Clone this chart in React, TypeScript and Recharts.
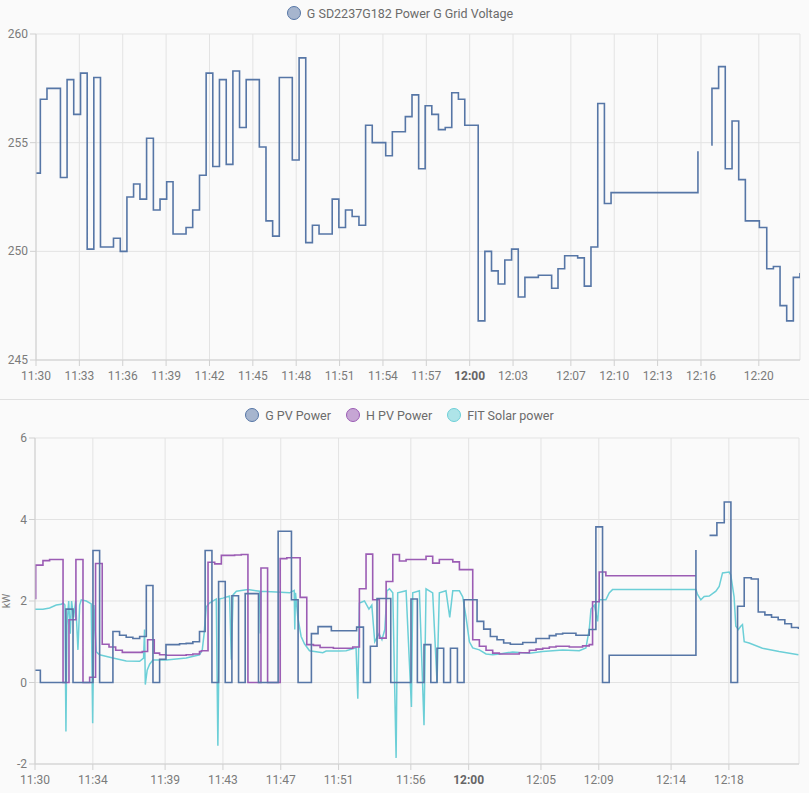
import React from 'react';
import { LineChart, Line, XAxis, YAxis, CartesianGrid, Legend, Label } from 'recharts';

// minutes after 11:30
const voltT = [0, 0.3, 0.76, 1.69, 2.15, 2.61, 3.08, 3.54, 4.0, 4.46, 5.36, 5.83, 6.29, 6.75, 7.19, 7.65, 8.12, 8.58, 9.04, 9.48, 10.38, 10.84, 11.31, 11.77, 12.23, 12.69, 13.16, 13.62, 14.08, 14.54, 15.45, 15.91, 16.37, 16.83, 17.73, 18.2, 18.66, 19.12, 19.58, 20.49, 20.95, 21.41, 21.87, 22.34, 22.8, 23.26, 24.19, 24.65, 25.55, 26.01, 26.47, 26.92, 27.38, 27.84, 28.31, 28.76, 29.22, 29.66, 30.59, 31.05, 31.51, 31.97, 32.43, 32.9, 33.36, 33.82, 34.75, 35.67, 36.11, 36.57, 37.47, 37.93, 38.39, 38.86, 39.32, 39.78, 45.79, 46.2, 46.71, 46.76, 47.22, 47.68, 48.15, 48.61, 49.07, 50.04, 50.55, 51.01, 51.47, 51.93, 52.39, 52.85];
const voltV = [253.6, 257.0, 257.5, 253.4, 257.9, 256.3, 258.2, 250.1, 258.0, 250.2, 250.6, 250.0, 252.5, 253.1, 252.4, 255.2, 251.9, 252.4, 253.2, 250.8, 251.1, 251.9, 253.5, 258.2, 253.9, 257.9, 254.0, 258.3, 255.7, 257.9, 254.8, 251.4, 250.7, 258.0, 254.2, 258.9, 250.4, 251.2, 250.8, 252.4, 251.1, 251.9, 251.6, 251.2, 255.8, 255.0, 254.4, 255.5, 256.2, 257.2, 253.8, 256.7, 256.3, 255.6, 255.7, 257.3, 257.0, 255.8, 246.8, 250.0, 249.1, 248.5, 249.6, 250.1, 247.9, 248.8, 248.9, 248.3, 249.2, 249.8, 249.7, 248.4, 250.2, 256.8, 252.2, 252.7, 254.6, null, 254.9, 257.5, 258.5, 253.8, 256.0, 253.3, 251.4, 251.1, 249.2, 249.3, 247.5, 246.8, 248.8, 249.0];

const gT = [0, 0.37, 2.14, 2.63, 4.01, 4.47, 5.39, 5.85, 6.31, 6.77, 7.24, 7.7, 8.16, 8.62, 9.06, 10.0, 10.46, 10.92, 11.38, 11.77, 12.24, 12.7, 13.16, 13.62, 14.08, 14.54, 15.46, 16.82, 17.74, 18.2, 19.12, 19.58, 20.5, 22.25, 22.72, 23.2, 23.66, 24.61, 26.01, 26.45, 26.91, 27.38, 27.81, 28.27, 28.74, 29.22, 29.68, 30.58, 31.04, 31.5, 31.96, 32.42, 32.88, 33.74, 34.66, 35.58, 36.04, 36.5, 37.42, 38.34, 38.8, 39.26, 39.72, 45.72, 46.0, 46.66, 47.17, 47.68, 48.14, 48.6, 49.06, 49.55, 50.03, 50.49, 50.95, 51.41, 51.87, 52.33, 52.81];
const gV = [0.3, 0, 1.8, 0, 3.24, 0, 1.25, 1.16, 1.11, 1.08, 1.13, 2.38, 0, 0.57, 0.93, 0.95, 0.96, 1.0, 1.25, 3.24, 0, 2.48, 0, 2.13, 0, 2.18, 0, 3.71, 2.03, 0, 1.2, 1.37, 1.27, 1.36, 0, 0.89, 2.06, 0, 2.05, 0, 0.93, 0, 0.84, 0, 0.84, 0, 2.03, 1.5, 1.31, 1.13, 1.05, 0.97, 0.94, 0.98, 1.08, 1.15, 1.19, 1.21, 1.16, 1.3, 3.82, 0, 0.67, 3.25, null, 3.61, 3.92, 4.43, 0, 1.87, 2.57, 2.54, 1.73, 1.66, 1.6, 1.54, 1.44, 1.35, 1.31];

const hT = [0, 0.05, 0.55, 1.01, 1.94, 2.35, 2.83, 3.32, 3.78, 4.19, 4.65, 5.12, 5.58, 6.04, 7.42, 7.79, 8.25, 8.62, 9.08, 10.0, 10.46, 10.92, 11.38, 11.51, 11.97, 12.43, 12.89, 13.81, 14.27, 14.73, 15.63, 16.09, 16.96, 17.42, 18.34, 18.8, 19.26, 19.72, 20.64, 21.98, 22.44, 22.9, 23.36, 23.82, 24.29, 24.75, 25.21, 25.67, 27.05, 27.51, 27.97, 28.9, 29.36, 30.28, 30.74, 31.2, 31.66, 32.12, 33.5, 34.2, 34.66, 35.12, 35.58, 36.04, 36.96, 37.88, 38.34, 38.57, 39.03, 39.49, 45.72];
const hV = [2.06, 2.88, 2.99, 3.02, 0, 1.54, 3.02, 0, 0.13, 2.92, 0.94, 0.87, 0.79, 0.74, 0.76, 1.05, 0.72, 0.68, 0.67, 0.67, 0.68, 0.7, 0.76, 0.78, 2.95, 2.91, 3.12, 3.13, 3.14, 0, 2.81, 0, 3.04, 3.06, 2.09, 0.93, 0.91, 0.86, 0.84, 0.87, 2.3, 3.15, 2.03, 1.09, 2.48, 3.14, 2.98, 3.02, 3.1, 2.93, 3.02, 2.96, 2.77, 1.05, 0.89, 0.79, 0.72, 0.7, 0.73, 0.79, 0.82, 0.84, 0.87, 0.89, 0.87, 0.9, 0.93, 1.98, 2.71, 2.62, 2.62];

const fitT = [0, 0.55, 1.01, 1.47, 1.82, 1.94, 2.07, 2.14, 2.21, 2.33, 2.44, 2.53, 2.67, 2.81, 2.97, 3.09, 3.2, 3.55, 3.89, 3.99, 4.08, 4.24, 4.47, 5.39, 6.31, 7.24, 7.51, 7.58, 7.63, 7.76, 7.93, 8.16, 9.08, 10.46, 11.38, 11.57, 11.7, 11.84, 12.07, 12.54, 12.65, 12.77, 13.0, 13.46, 13.58, 13.7, 13.93, 14.73, 15.54, 15.58, 15.63, 16.69, 17.61, 17.93, 17.97, 18.02, 18.18, 18.41, 18.64, 18.99, 19.91, 20.14, 21.06, 21.52, 22.21, 22.33, 22.44, 22.79, 23.1, 23.3, 23.5, 23.8, 24.0, 24.2, 24.35, 24.52, 24.75, 24.98, 25.09, 25.67, 26.04, 26.13, 26.59, 26.91, 27.05, 27.51, 27.81, 27.97, 28.43, 28.69, 28.9, 29.36, 29.59, 29.82, 30.05, 30.28, 30.74, 31.2, 31.66, 32.12, 33.04, 34.2, 35.12, 36.5, 37.65, 38.11, 38.34, 38.46, 38.69, 38.92, 39.03, 39.49, 39.72, 39.95, 45.72, 45.83, 46.06, 46.29, 46.64, 47.1, 47.33, 47.56, 48.02, 48.13, 48.36, 48.48, 48.66, 48.82, 48.94, 49.06, 49.4, 50.32, 51.47, 52.81];
const fitV = [1.8, 1.8, 1.83, 1.9, 1.92, 1.95, 1.9, -1.2, 1.4, 2.0, 1.2, 2.0, 1.6, 2.0, 0.8, 1.9, 2.03, 2.0, 1.93, -1.0, 1.9, 0.75, 0.68, 0.6, 0.53, 0.52, 0.6, 1.3, -0.05, 0.3, 0.45, 0.55, 0.55, 0.6, 0.68, 0.8, 1.2, 1.85, 1.95, 2.05, -1.55, 2.05, 2.07, 2.12, 0.56, 2.15, 2.24, 2.28, 2.24, 1.2, 2.24, 2.22, 2.2, 2.26, 1.3, 2.2, 1.6, 1.13, 0.95, 0.78, 0.73, 0.77, 0.77, 0.78, 0.85, -0.4, 1.95, 2.0, 1.8, 1.9, 1.0, 1.2, 1.05, 1.3, 2.25, 2.3, 2.2, -1.85, 2.2, 2.25, -0.6, 2.2, 2.25, -1.05, 2.3, 2.2, 0.0, 2.2, 2.25, 1.6, 2.25, 2.25, 2.1, 1.6, 1.0, 0.85, 0.8, 0.7, 0.68, 0.7, 0.75, 0.72, 0.76, 0.8, 0.78, 0.85, 1.3, 1.8, 1.9, 1.5, 2.03, 2.03, 2.2, 2.28, 2.28, 2.16, 2.03, 2.11, 2.12, 2.24, 2.36, 2.69, 2.71, 2.64, 2.1, 1.38, 1.3, 1.38, 1.42, 1.0, 0.97, 0.84, 0.76, 0.68];

const topTicks = [0, 3, 6, 9, 12, 15, 18, 21, 24, 27, 30, 33, 37, 40, 43, 46, 50];
const bottomTicks = [0, 4, 9, 13, 17, 21, 26, 30, 35, 39, 44, 48];
const voltTicks = [245, 250, 255, 260];
const kwTicks = [-2, 0, 2, 4, 6];

const toData = (t: number[], v: (number | null)[]) => t.map((x, i) => ({ t: x, v: v[i] }));
const voltData = toData(voltT, voltV);
const gData = toData(gT, gV);
const hData = toData(hT, hV);
const fitData = toData(fitT, fitV);

const C_G = '#5676a6';
const C_H = '#9b5cb4';
const C_FIT = '#6ccfd7';
const FONT = 'Roboto, "Noto Sans", sans-serif';
const TICK_COLOR = '#7b7b7b';
const GRID = '#e3e3e3';
const AXIS = '#d0d0d0';
const X_MAX = 52.85;

const fmt = (m: number) => {
  const tot = 11 * 60 + 30 + Math.round(m);
  const h = Math.floor(tot / 60);
  const mm = tot % 60;
  return `${h}:${String(mm).padStart(2, '0')}`;
};

const XTick = (props: any) => {
  const { x, y, payload } = props;
  const bold = payload.value === 30;
  return (
    <text x={x} y={y + 12} textAnchor="middle" fontSize={12} fontFamily={FONT}
      fill={bold ? '#666' : TICK_COLOR} fontWeight={bold ? 'bold' : 'normal'}>
      {fmt(payload.value)}
    </text>
  );
};

const YTick = (props: any) => {
  const { x, y, payload } = props;
  return (
    <text x={x} y={y + 4} textAnchor="end" fontSize={12} fontFamily={FONT} fill={TICK_COLOR}>
      {payload.value}
    </text>
  );
};

const KwLabel = (props: any) => {
  const vb = props.viewBox || { x: 0, y: 38, width: 35, height: 326 };
  const cy = vb.y + vb.height / 2;
  return (
    <text x={10} y={cy} transform={`rotate(-90, 10, ${cy})`} textAnchor="middle" fontSize={10.5} fontFamily={FONT} fill={TICK_COLOR}>
      kW
    </text>
  );
};

const legendItems = (items: { name: string; stroke: string; fill: string }[]) => () => (
  <div style={{ display: 'flex', justifyContent: 'center', alignItems: 'center', height: 20, fontFamily: FONT, fontSize: 12.5, color: '#6b6b6b' }}>
    {items.map((it) => (
      <div key={it.name} style={{ display: 'flex', alignItems: 'center', margin: '0 7.5px' }}>
        <span style={{ display: 'inline-block', width: 12, height: 12, borderRadius: '50%', background: it.fill, border: `1.5px solid ${it.stroke}`, marginRight: 6 }} />
        <span>{it.name}</span>
      </div>
    ))}
  </div>
);

export default function App() {
  return (
    <div style={{ position: 'absolute', left: 0, top: 0, width: 809, height: 793, background: '#fafafa', overflow: 'hidden' }}>
      <div style={{ position: 'absolute', left: 0, top: 0 }}>
        <LineChart width={809} height={390} margin={{ top: 14, right: 9, bottom: 0, left: 0 }}>
          <CartesianGrid stroke={GRID} />
          <XAxis type="number" dataKey="t" domain={[0, X_MAX]} ticks={topTicks} allowDataOverflow
            tick={<XTick />} tickLine={{ stroke: AXIS }} axisLine={{ stroke: AXIS }} height={30} tickSize={6} interval={0} />
          <YAxis type="number" domain={[245, 260]} ticks={voltTicks} allowDataOverflow width={36}
            tick={<YTick />} tickLine={{ stroke: AXIS }} axisLine={{ stroke: AXIS }} tickSize={6} interval={0} />
          <Legend verticalAlign="top" height={20} wrapperStyle={{ top: 3 }}
            content={legendItems([{ name: 'G SD2237G182 Power G Grid Voltage', stroke: C_G, fill: '#a6b5ce' }])} />
          <Line data={voltData} dataKey="v" type="stepAfter" stroke={C_G} strokeWidth={1.6} dot={false} activeDot={false} isAnimationActive={false} connectNulls={false} name="G SD2237G182 Power G Grid Voltage" />
        </LineChart>
      </div>
      <div style={{ position: 'absolute', left: 0, top: 398.5, width: 809, height: 1, background: '#e0e0e0' }} />
      <div style={{ position: 'absolute', left: 0, top: 400 }}>
        <LineChart width={809} height={393} margin={{ top: 18, right: 10, bottom: 0, left: 0 }}>
          <CartesianGrid stroke={GRID} />
          <XAxis type="number" dataKey="t" domain={[0, X_MAX]} ticks={bottomTicks} allowDataOverflow
            tick={<XTick />} tickLine={{ stroke: AXIS }} axisLine={{ stroke: AXIS }} height={29} tickSize={6} interval={0} />
          <YAxis type="number" domain={[-2, 6]} ticks={kwTicks} allowDataOverflow width={35}
            tick={<YTick />} tickLine={{ stroke: AXIS }} axisLine={{ stroke: AXIS }} tickSize={6} interval={0}>
            <Label content={<KwLabel />} />
          </YAxis>
          <Legend verticalAlign="top" height={20} wrapperStyle={{ top: 5 }}
            content={legendItems([
              { name: 'G PV Power', stroke: C_G, fill: '#a6b5ce' },
              { name: 'H PV Power', stroke: C_H, fill: '#c6a6d4' },
              { name: 'FIT Solar power', stroke: C_FIT, fill: '#aee4e8' },
            ])} />
          <Line data={fitData} dataKey="v" type="linear" stroke={C_FIT} strokeWidth={1.5} dot={false} activeDot={false} isAnimationActive={false} name="FIT Solar power" />
          <Line data={hData} dataKey="v" type="stepAfter" stroke={C_H} strokeWidth={1.6} dot={false} activeDot={false} isAnimationActive={false} name="H PV Power" />
          <Line data={gData} dataKey="v" type="stepAfter" stroke={C_G} strokeWidth={1.6} dot={false} activeDot={false} isAnimationActive={false} connectNulls={false} name="G PV Power" />
        </LineChart>
      </div>
    </div>
  );
}
